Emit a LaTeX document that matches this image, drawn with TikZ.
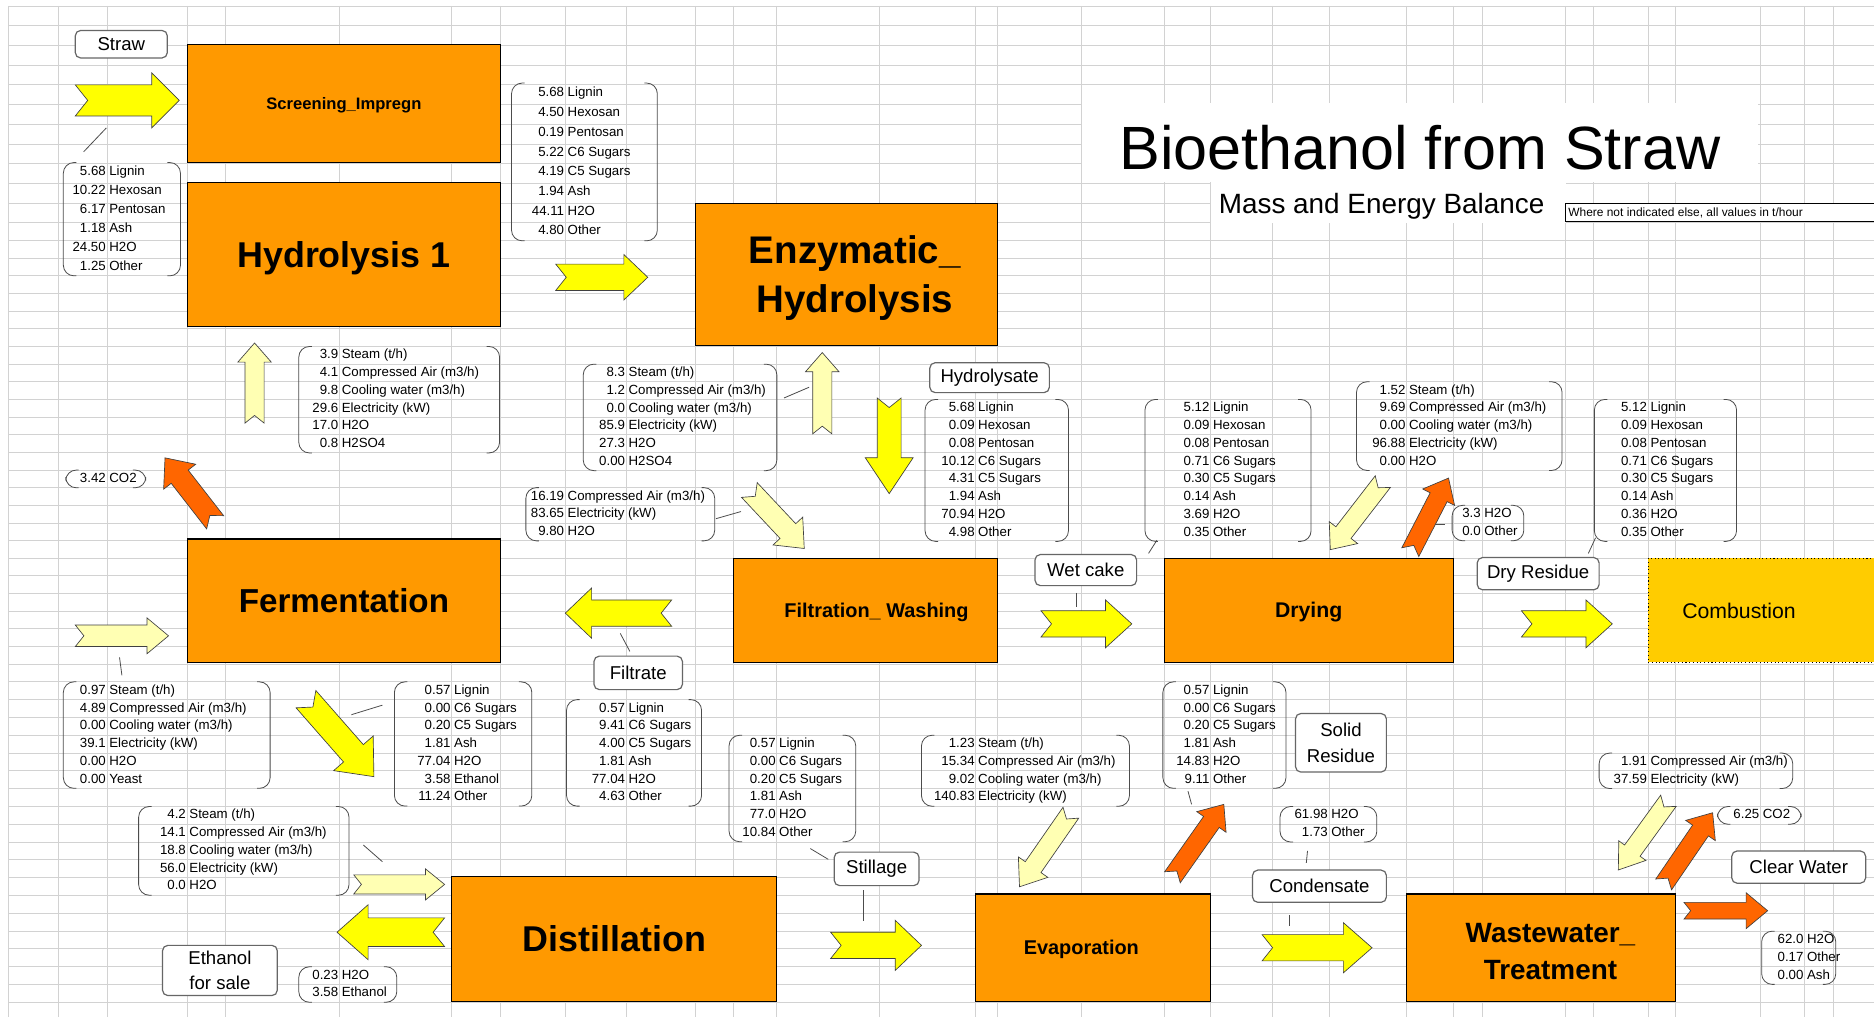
\documentclass[tikz,border=0pt]{standalone}
\usepackage{fontspec}
\setmainfont{Liberation Sans}
\usepackage{array}

\definecolor{procorange}{HTML}{FF9900}
\definecolor{combgold}{HTML}{FFCC00}
\definecolor{flowyellow}{HTML}{FFFF00}
\definecolor{flowpale}{HTML}{FFFFB3}
\definecolor{floworange}{HTML}{FF6600}
\definecolor{sheetgray}{HTML}{D2D2D2}

\tikzset{
  sheetline/.style={sheetgray, line width=0.7pt},
  wh/.style 2 args={minimum width=#1*0.9pt, minimum height=#2*0.9pt},
  proc/.style 2 args={draw=black, line width=0.8pt, fill=procorange, inner sep=0pt,
    text depth=0pt, align=center, font=\fontsize{#1}{#2}\selectfont\bfseries},
  lbl/.style={draw=black!60, line width=0.9pt, fill=white, rounded corners=4pt,
    inner sep=0pt, align=center, font=\fontsize{14}{19}\selectfont},
  tbl/.style={inner sep=0pt, outer sep=0pt, font=\fontsize{10}{12}\selectfont},
  brk/.style={draw=black!70, line width=0.6pt, rounded corners=8pt},
  leader/.style={draw=black!70, line width=0.6pt},
  yelarrow/.style={draw=black!75, line width=0.5pt, fill=flowyellow},
  palearrow/.style={draw=black!75, line width=0.5pt, fill=flowpale},
  orarrow/.style={draw=black!75, line width=0.5pt, fill=floworange},
}

% notched block arrow: style, name, tail, tip, shaft half width, head half width, head length
\newcommand{\flowarrow}[7]{%
  \coordinate (#2-tail) at (#3);
  \coordinate (#2-tip) at (#4);
  \path (#2-tail); \pgfgetlastxy{\flwax}{\flway}
  \path (#2-tip); \pgfgetlastxy{\flwbx}{\flwby}
  \pgfmathsetmacro\flwang{atan2(\flwby-\flway,\flwbx-\flwax)}
  \pgfmathsetmacro\flwlen{veclen(\flwbx-\flwax,\flwby-\flway)/0.9}
  \begin{scope}[shift={(#2-tail)},rotate=\flwang]
    \draw[#1] (0,#5) -- ({\flwlen-#7},#5) -- ({\flwlen-#7},#6) -- (\flwlen,0)
      -- ({\flwlen-#7},-#6) -- ({\flwlen-#7},-#5) -- (0,-#5) -- ({0.8*#5},0) -- cycle;
  \end{scope}}

% bracketed value list: [row height], name, left x, right x, column x, top y, rows
\newcommand{\datatable}[7][14.85]{%
  \pgfmathsetmacro\dtstretch{#1*0.9/12}
  \pgfmathsetmacro\dtvalw{(#5-#3-3)*0.9}
  \pgfmathsetmacro\dtright{(#4-#3-2)*0.9}
  \node[tbl, anchor=north west] (#2) at (#3+2,#6) {\renewcommand\arraystretch{\dtstretch}%
    \begin{tabular}{@{}>{\raggedleft\arraybackslash}p{\dtvalw pt}@{\hspace{2.7pt}}l@{}}#7\end{tabular}};
  \draw[brk] ([xshift=8pt]#2.north west) -- ([xshift=-1.8pt]#2.north west)
    -- ([xshift=-1.8pt]#2.south west) -- ([xshift=8pt]#2.south west);
  \draw[brk] ([xshift=\dtright pt-9.8pt]#2.north west) -- ([xshift=\dtright pt]#2.north west)
    -- ([xshift=\dtright pt]#2.south west) -- ([xshift=\dtright pt-9.8pt]#2.south west);}

\begin{document}
\begin{tikzpicture}[x=0.9pt, y=-0.9pt]
  \clip (0,0) rectangle (1568,851);
  \fill[white] (0,0) rectangle (1568,851);

  % spreadsheet grid
  \foreach \gx in {7,49,89.5,156.5,189,284,378,419,473,524,582,614,650,736,816.5,835,905,
      974,1013,1065,1112,1177,1216,1240,1310,1333,1379,1402,1473,1510,1534}
    \draw[sheetline] (\gx,5) -- (\gx,851);
  \foreach \k in {0,...,11}
    \draw[sheetline] (7,{5+16.5*\k}) -- (1568,{5+16.5*\k});
  \foreach \k in {1,...,25}
    \draw[sheetline] (7,{186.5+14.77*\k}) -- (1568,{186.5+14.77*\k});
  \foreach \k in {0,...,19}
    \draw[sheetline] (7,{570.5+14.9*\k}) -- (1568,{570.5+14.9*\k});

  % title
  \fill[white] (905,86) rectangle (1471,152.5);
  \fill[white] (1013,152.5) rectangle (1310,186.5);
  \node[anchor=base, font=\fontsize{46}{50}\selectfont] (title) at (1188,142) {Bioethanol from Straw};
  \node[anchor=base, font=\fontsize{21}{25}\selectfont] (subtitle) at (1156,179) {Mass and Energy Balance};
  \draw[fill=white, line width=0.6pt] (1310,170) rectangle (1600,185);
  \node[anchor=west, inner sep=0pt, font=\fontsize{9}{10}\selectfont] (unitnote) at (1312,178)
    {Where not indicated else, all values in t/hour};

  % process units
  \node[proc={12.5}{15}, wh={262.5}{99}] (screen) at (287.75,86.5) {Screening\_Impregn};
  \node[proc={27}{32}, wh={262.5}{120}] (hydro) at (287.75,213) {Hydrolysis 1};
  \node[proc={29}{37}, wh={253}{119}] (enzym) at (708.5,229.5)
    {\hspace*{12pt}Enzymatic\_\\\hspace*{12pt}Hydrolysis};
  \node[proc={25}{30}, wh={262.5}{103}] (ferment) at (287.75,502.5) {Fermentation};
  \node[proc={15}{18}, wh={221}{87}] (filtr) at (724.5,510.5) {\hspace*{16pt}Filtration\_ Washing};
  \node[proc={16}{19}, wh={242}{87}] (drying) at (1095,510.5) {Drying};
  \node[proc={27}{32}, wh={272}{105}] (distil) at (514,785.5) {Distillation};
  \node[proc={15}{18}, wh={196.5}{90}] (evap) at (914.75,793) {Evaporation\hspace*{18pt}};
  \node[proc={21}{28}, wh={225}{90}, text height=48.5pt] (waste) at (1289.5,793)
    {\hspace*{14pt}Wastewater\_\\\hspace*{14pt}Treatment};
  \draw[fill=combgold, draw=black, line width=0.8pt, dotted] (1379,467) rectangle (1600,554);
  \node[font=\fontsize{16}{19}\selectfont] (combust) at (1455,511) {Combustion};

  % stream tables
  \datatable[15.8]{tstraw}{53}{151}{89.5}{136}{5.68 & Lignin\\10.22 & Hexosan\\6.17 & Pentosan\\1.18 & Ash\\24.50 & H2O\\1.25 & Other}
  \datatable[16.5]{tscreen}{428}{550}{473}{69.5}{5.68 & Lignin\\4.50 & Hexosan\\0.19 & Pentosan\\5.22 & C6 Sugars\\4.19 & C5 Sugars\\1.94 & Ash\\44.11 & H2O\\4.80 & Other}
  \datatable{tutilh}{250}{418}{284}{289.9}{3.9 & Steam (t/h)\\4.1 & Compressed Air (m3/h)\\9.8 & Cooling water (m3/h)\\29.6 & Electricity (kW)\\17.0 & H2O\\0.8 & H2SO4}
  \datatable{tutile}{488}{650}{524}{304.7}{8.3 & Steam (t/h)\\1.2 & Compressed Air (m3/h)\\0.0 & Cooling water (m3/h)\\85.9 & Electricity (kW)\\27.3 & H2O\\0.00 & H2SO4}
  \datatable{tutilf}{440}{598}{473}{408}{16.19 & Compressed Air (m3/h)\\83.65 & Electricity (kW)\\9.80 & H2O}
  \datatable{thydrolysate}{774}{894}{816.5}{334.2}{5.68 & Lignin\\0.09 & Hexosan\\0.08 & Pentosan\\10.12 & C6 Sugars\\4.31 & C5 Sugars\\1.94 & Ash\\70.94 & H2O\\4.98 & Other}
  \datatable{twetcake}{958}{1097}{1013}{334.2}{5.12 & Lignin\\0.09 & Hexosan\\0.08 & Pentosan\\0.71 & C6 Sugars\\0.30 & C5 Sugars\\0.14 & Ash\\3.69 & H2O\\0.35 & Other}
  \datatable{tutild}{1135}{1307}{1177}{319.4}{1.52 & Steam (t/h)\\9.69 & Compressed Air (m3/h)\\0.00 & Cooling water (m3/h)\\96.88 & Electricity (kW)\\0.00 & H2O}
  \datatable{tvapour}{1215}{1275}{1240}{422.8}{3.3 & H2O\\0.0 & Other}
  \datatable{tdryres}{1334}{1453}{1379}{334.2}{5.12 & Lignin\\0.09 & Hexosan\\0.08 & Pentosan\\0.71 & C6 Sugars\\0.30 & C5 Sugars\\0.14 & Ash\\0.36 & H2O\\0.35 & Other}
  \datatable{tco2ferm}{55}{122}{89.5}{393.3}{3.42 & CO2}
  \datatable{tutilferm}{53}{226}{89.5}{570.5}{0.97 & Steam (t/h)\\4.89 & Compressed Air (m3/h)\\0.00 & Cooling water (m3/h)\\39.1 & Electricity (kW)\\0.00 & H2O\\0.00 & Yeast}
  \datatable{tbeer}{330}{445}{378}{570.5}{0.57 & Lignin\\0.00 & C6 Sugars\\0.20 & C5 Sugars\\1.81 & Ash\\77.04 & H2O\\3.58 & Ethanol\\11.24 & Other}
  \datatable{tfiltrate}{474}{587}{524}{585.4}{0.57 & Lignin\\9.41 & C6 Sugars\\4.00 & C5 Sugars\\1.81 & Ash\\77.04 & H2O\\4.63 & Other}
  \datatable{tstillage}{610}{716}{650}{615.2}{0.57 & Lignin\\0.00 & C6 Sugars\\0.20 & C5 Sugars\\1.81 & Ash\\77.0 & H2O\\10.84 & Other}
  \datatable{tutildist}{116}{292}{156.5}{674.8}{4.2 & Steam (t/h)\\14.1 & Compressed Air (m3/h)\\18.8 & Cooling water (m3/h)\\56.0 & Electricity (kW)\\0.0 & H2O}
  \datatable{tethanol}{250}{332}{284}{808.9}{0.23 & H2O\\3.58 & Ethanol}
  \datatable{tutilevap}{771}{945}{816.5}{615.2}{1.23 & Steam (t/h)\\15.34 & Compressed Air (m3/h)\\9.02 & Cooling water (m3/h)\\140.83 & Electricity (kW)}
  \datatable{tsolid}{973}{1076}{1013}{570.5}{0.57 & Lignin\\0.00 & C6 Sugars\\0.20 & C5 Sugars\\1.81 & Ash\\14.83 & H2O\\9.11 & Other}
  \datatable{tcondensate}{1071}{1152}{1112}{674.8}{61.98 & H2O\\1.73 & Other}
  \datatable{tutilww}{1338}{1500}{1379}{630.1}{1.91 & Compressed Air (m3/h)\\37.59 & Electricity (kW)}
  \datatable{tco2ww}{1437}{1507}{1473}{674.8}{6.25 & CO2}
  \datatable{tclear}{1474}{1536}{1510}{779.1}{62.0 & H2O\\0.17 & Other\\0.00 & Ash}

  % flows
  \flowarrow{yelarrow}{strawin}{63,84}{150,84}{13}{23}{23}
  \flowarrow{yelarrow}{toenz}{465,232}{542,232}{11}{19}{20}
  \flowarrow{palearrow}{utilh}{213,354}{213,287}{8}{14}{16}
  \flowarrow{palearrow}{utile}{688,363}{688,295}{8}{14}{16}
  \flowarrow{yelarrow}{tofiltr}{744,333}{744,413}{10}{20}{30}
  \flowarrow{palearrow}{utilf}{627,410}{673,459}{9}{17}{20}
  \flowarrow{orarrow}{co2f}{180,437}{138,383}{9}{17}{20}
  \flowarrow{yelarrow}{filtrateflow}{562,513}{473,513}{11}{21}{22}
  \flowarrow{palearrow}{utilferm}{63,532}{141,532}{9}{15}{18}
  \flowarrow{yelarrow}{beer}{256,585}{313,650}{11}{22}{26}
  \flowarrow{yelarrow}{wetcakeflow}{871,522}{947,522}{11}{20}{22}
  \flowarrow{palearrow}{utild}{1157,403}{1113,460}{8}{15}{18}
  \flowarrow{orarrow}{vapour}{1180,462}{1212,400}{8}{15}{18}
  \flowarrow{yelarrow}{dryresflow}{1273,522}{1349,522}{11}{20}{22}
  \flowarrow{palearrow}{utildist}{296,740}{372,740}{8}{13}{16}
  \flowarrow{yelarrow}{ethanolflow}{372,780}{282,780}{12}{23}{26}
  \flowarrow{yelarrow}{stillageflow}{695,791}{771,791}{11}{21}{22}
  \flowarrow{palearrow}{utilevap}{896,680}{853,742}{8}{15}{20}
  \flowarrow{orarrow}{solidflow}{981,734}{1024,673}{8}{15}{18}
  \flowarrow{yelarrow}{condflow}{1056,793}{1148,793}{11}{21}{24}
  \flowarrow{palearrow}{utilww}{1396,670}{1354,728}{8}{14}{20}
  \flowarrow{orarrow}{co2ww}{1392,740}{1433,680}{8}{15}{18}
  \flowarrow{orarrow}{clearflow}{1409,762}{1479,762}{7}{15}{18}

  % stream labels
  \node[lbl, wh={77}{23}] (straw) at (101.5,37) {Straw};
  \node[lbl, wh={100}{25}] (hydrolysate) at (828,316) {Hydrolysate};
  \node[lbl, wh={85}{26}] (wetcake) at (908.5,477) {Wet cake};
  \node[lbl, wh={102}{27}] (dryresidue) at (1287,480) {Dry Residue};
  \node[lbl, wh={74}{28}] (filtrate) at (534,563) {Filtrate};
  \node[lbl, wh={76}{49}] (solidresidue) at (1122,621.5) {Solid\\Residue};
  \node[lbl, wh={71}{28}] (stillage) at (733.5,727) {Stillage};
  \node[lbl, wh={112}{27}] (condensate) at (1104,741.5) {Condensate};
  \node[lbl, wh={112}{27}] (clearwater) at (1505,725.5) {Clear Water};
  \node[lbl, wh={96}{42}] (ethanolsale) at (184,812) {Ethanol\\for sale};

  % leader lines
  \draw[leader] (70,127) -- (89,107);
  \draw[leader] (656,333) -- (677,324);
  \draw[leader] (599,434) -- (620,428);
  \draw[leader] (968,452) -- (961,463);
  \draw[leader] (901,496) -- (901,508);
  \draw[leader] (1201,439) -- (1209,439);
  \draw[leader] (1335,450) -- (1329,463);
  \draw[leader] (519,530) -- (527,545);
  \draw[leader] (100,550) -- (102,565);
  \draw[leader] (294,598) -- (320,590);
  \draw[leader] (678,710) -- (693,719);
  \draw[leader] (722,745) -- (722,771);
  \draw[leader] (304,707) -- (320,721);
  \draw[leader] (994,662) -- (997,673);
  \draw[leader] (1094,712) -- (1093,722);
  \draw[leader] (1079,766) -- (1079,775);
\end{tikzpicture}
\end{document}
